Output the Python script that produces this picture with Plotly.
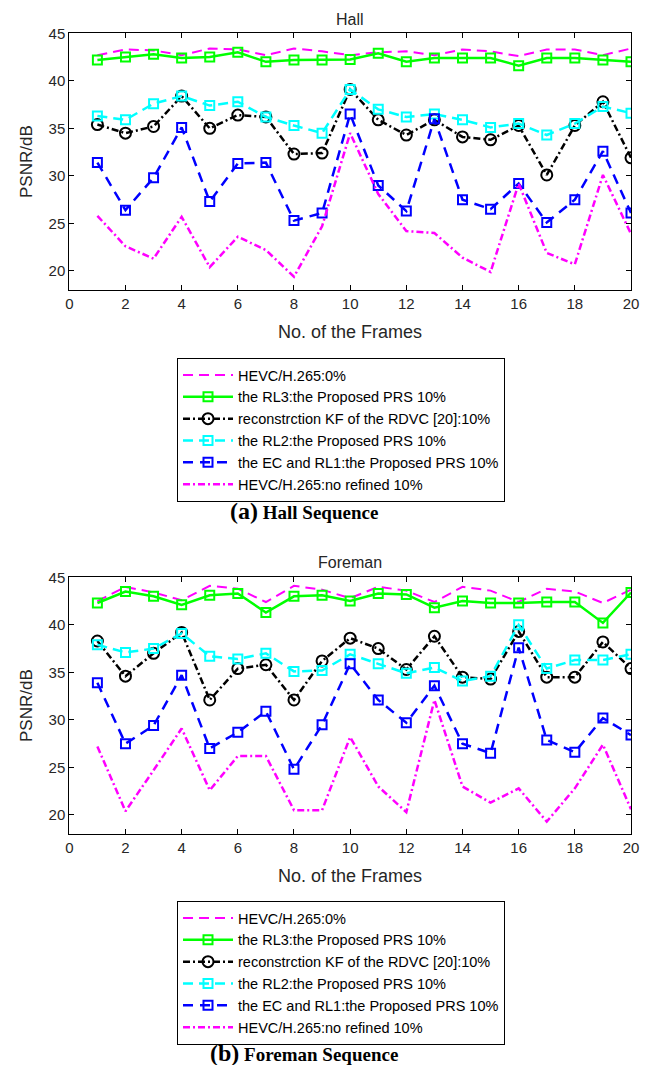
import plotly.graph_objects as go

frames = list(range(1, 21))

# Hall sequence
hall_hevc0 = [42.7, 43.3, 43.2, 42.7, 43.4, 43.3, 42.7, 43.4, 43.1, 42.7,
              43.0, 43.1, 42.7, 43.3, 43.1, 42.6, 43.3, 43.3, 42.7, 43.4]
hall_rl3 = [42.2, 42.5, 42.8, 42.4, 42.5, 43.0, 42.0, 42.2, 42.2, 42.25,
            42.9, 42.0, 42.4, 42.4, 42.4, 41.6, 42.4, 42.4, 42.2, 42.0]
hall_rdvc = [35.4, 34.5, 35.2, 38.4, 35.0, 36.4, 36.2, 32.3, 32.4, 39.1,
             35.9, 34.3, 35.9, 34.1, 33.8, 35.3, 30.1, 35.3, 37.8, 31.9]
hall_rl2 = [36.3, 35.9, 37.6, 38.4, 37.4, 37.8, 36.2, 35.3, 34.5, 39.1,
            37.0, 36.2, 36.5, 35.9, 35.1, 35.5, 34.3, 35.5, 37.3, 36.6]
hall_rl1 = [31.4, 26.4, 29.8, 35.1, 27.3, 31.3, 31.4, 25.3, 26.1, 36.5,
            29.0, 26.3, 36.0, 27.5, 26.5, 29.2, 25.1, 27.5, 32.6, 26.1]
hall_noref = [25.8, 22.6, 21.3, 25.7, 20.4, 23.6, 22.2, 19.4, 24.7, 34.5,
              28.1, 24.2, 24.0, 21.4, 19.9, 29.2, 21.9, 20.7, 30.1, 23.9]

# Foreman sequence
fore_hevc0 = [42.5, 44.0, 43.4, 42.6, 44.1, 43.8, 42.4, 44.1, 43.7, 42.8,
              44.0, 43.6, 42.4, 44.0, 43.6, 42.4, 43.8, 43.5, 42.3, 43.7]
fore_rl3 = [42.3, 43.5, 43.0, 42.1, 43.1, 43.3, 41.3, 43.0, 43.1, 42.5,
            43.3, 43.2, 41.8, 42.5, 42.3, 42.3, 42.4, 42.4, 40.2, 43.4]
fore_rdvc = [38.3, 34.6, 37.0, 39.2, 32.1, 35.4, 35.8, 32.1, 36.2, 38.6,
             37.5, 35.3, 38.8, 34.5, 34.3, 39.3, 34.5, 34.5, 38.2, 35.4]
fore_rl2 = [37.9, 37.1, 37.5, 39.1, 36.7, 36.4, 37.0, 35.1, 35.2, 36.9,
            35.9, 34.9, 35.5, 34.1, 34.6, 40.0, 35.4, 36.3, 36.3, 36.9]
fore_rl1 = [33.9, 27.5, 29.4, 34.7, 27.0, 28.7, 30.9, 24.8, 29.5, 35.9,
            32.1, 29.7, 33.6, 27.5, 26.5, 37.6, 27.9, 26.6, 30.2, 28.4]
fore_noref = [27.2, 20.4, 24.7, 29.1, 22.6, 26.2, 26.2, 20.5, 20.5, 28.2,
              23.0, 20.3, 32.1, 23.0, 21.3, 22.8, 19.3, 22.8, 27.4, 20.6]

names = ["HEVC/H.265:0%",
         "the RL3:the Proposed PRS 10%",
         "reconstrction KF of the RDVC [20]:10%",
         "the RL2:the Proposed PRS 10%",
         "the EC and RL1:the Proposed PRS 10%",
         "HEVC/H.265:no refined 10%"]

x_ticks = list(range(0, 21, 2))
y_ticks = [20, 25, 30, 35, 40, 45]

W, H = 649, 1065
FONT = "Liberation Sans, Arial, sans-serif"
SERIF = "Liberation Serif, Times New Roman, serif"

styles = [
    dict(mode="lines", line=dict(color="#FF00FF", width=2, dash="10px,6px")),
    dict(mode="lines+markers", line=dict(color="#00FF00", width=2.5),
         marker=dict(symbol="square-open", size=9, color="#00FF00", line=dict(width=2))),
    dict(mode="lines+markers", line=dict(color="#000000", width=2.5, dash="7px,3px,2px,3px"),
         marker=dict(symbol="circle-open", size=11, color="#000000", line=dict(width=2))),
    dict(mode="lines+markers", line=dict(color="#00FFFF", width=2.5, dash="10px,6px"),
         marker=dict(symbol="square-open", size=9, color="#00FFFF", line=dict(width=2))),
    dict(mode="lines+markers", line=dict(color="#0000FF", width=2.5, dash="10px,7px"),
         marker=dict(symbol="square-open", size=9, color="#0000FF", line=dict(width=2))),
    dict(mode="lines", line=dict(color="#FF00FF", width=2.5, dash="7px,3px,2px,3px")),
]

fig = go.Figure()

panels = [
    ([hall_hevc0, hall_rl3, hall_rdvc, hall_rl2, hall_rl1, hall_noref], "x", "y", "legend"),
    ([fore_hevc0, fore_rl3, fore_rdvc, fore_rl2, fore_rl1, fore_noref], "x2", "y2", "legend2"),
]
for series, xa, ya, lg in panels:
    for name, vals, st in zip(names, series, styles):
        fig.add_trace(go.Scatter(x=frames, y=vals, name=name, xaxis=xa, yaxis=ya,
                                 legend=lg, **st))

xdom = [69.3 / W, 631 / W]
ydom1 = [1 - 290 / H, 1 - 33.3 / H]
ydom2 = [1 - 834 / H, 1 - 577.3 / H]

axis_common = dict(showline=True, linecolor="black", linewidth=1, mirror="ticks",
                   ticks="inside", ticklen=5, tickcolor="black", showgrid=False,
                   zeroline=False, automargin=False,
                   tickfont=dict(family=FONT, size=15, color="#262626"))

legend_common = dict(xanchor="left", yanchor="top",
                     bordercolor="black", borderwidth=1, bgcolor="white",
                     font=dict(family=FONT, size=14.5, color="black"), itemwidth=50,
                     tracegroupgap=0)

fig.update_layout(
    width=W, height=H,
    margin=dict(l=0, r=0, t=0, b=0),
    paper_bgcolor="white", plot_bgcolor="white",
    font=dict(family=FONT, color="#262626"),
    xaxis=dict(domain=xdom, range=[0, 20], tickvals=x_ticks, anchor="y", **axis_common),
    yaxis=dict(domain=ydom1, range=[18, 45], tickvals=y_ticks, anchor="x", **axis_common),
    xaxis2=dict(domain=xdom, range=[0, 20], tickvals=x_ticks, anchor="y2", **axis_common),
    yaxis2=dict(domain=ydom2, range=[18, 45], tickvals=y_ticks, anchor="x2", **axis_common),
    legend=dict(x=177 / W, y=1 - 358 / H, **legend_common),
    legend2=dict(x=177 / W, y=1 - 901 / H, **legend_common),
    showlegend=True,
)

def ann(text, x, y, size, family=FONT, angle=0, color="#262626"):
    fig.add_annotation(text=text, x=x / W, y=1 - y / H, xref="paper", yref="paper",
                       xanchor="center", yanchor="middle", showarrow=False,
                       textangle=angle, font=dict(family=family, size=size, color=color))

ann("Hall", 350, 19, 16)
ann("Foreman", 350, 562, 16)
ann("PSNR/dB", 26, 162, 17, angle=-90)
ann("PSNR/dB", 26, 706, 17, angle=-90)
ann("No. of the Frames", 350, 332, 18)
ann("No. of the Frames", 350, 876, 18)
ann("<b><span style='font-size:24px'>(a)</span> Hall Sequence</b>", 304, 511, 19,
    family=SERIF, color="black")
ann("<b><span style='font-size:24px'>(b)</span> Foreman Sequence</b>", 304, 1053, 19,
    family=SERIF, color="black")

fig.write_html("out.html", config={"displayModeBar": False},
               post_script="document.body.style.margin='0';document.body.style.overflow='hidden';")
